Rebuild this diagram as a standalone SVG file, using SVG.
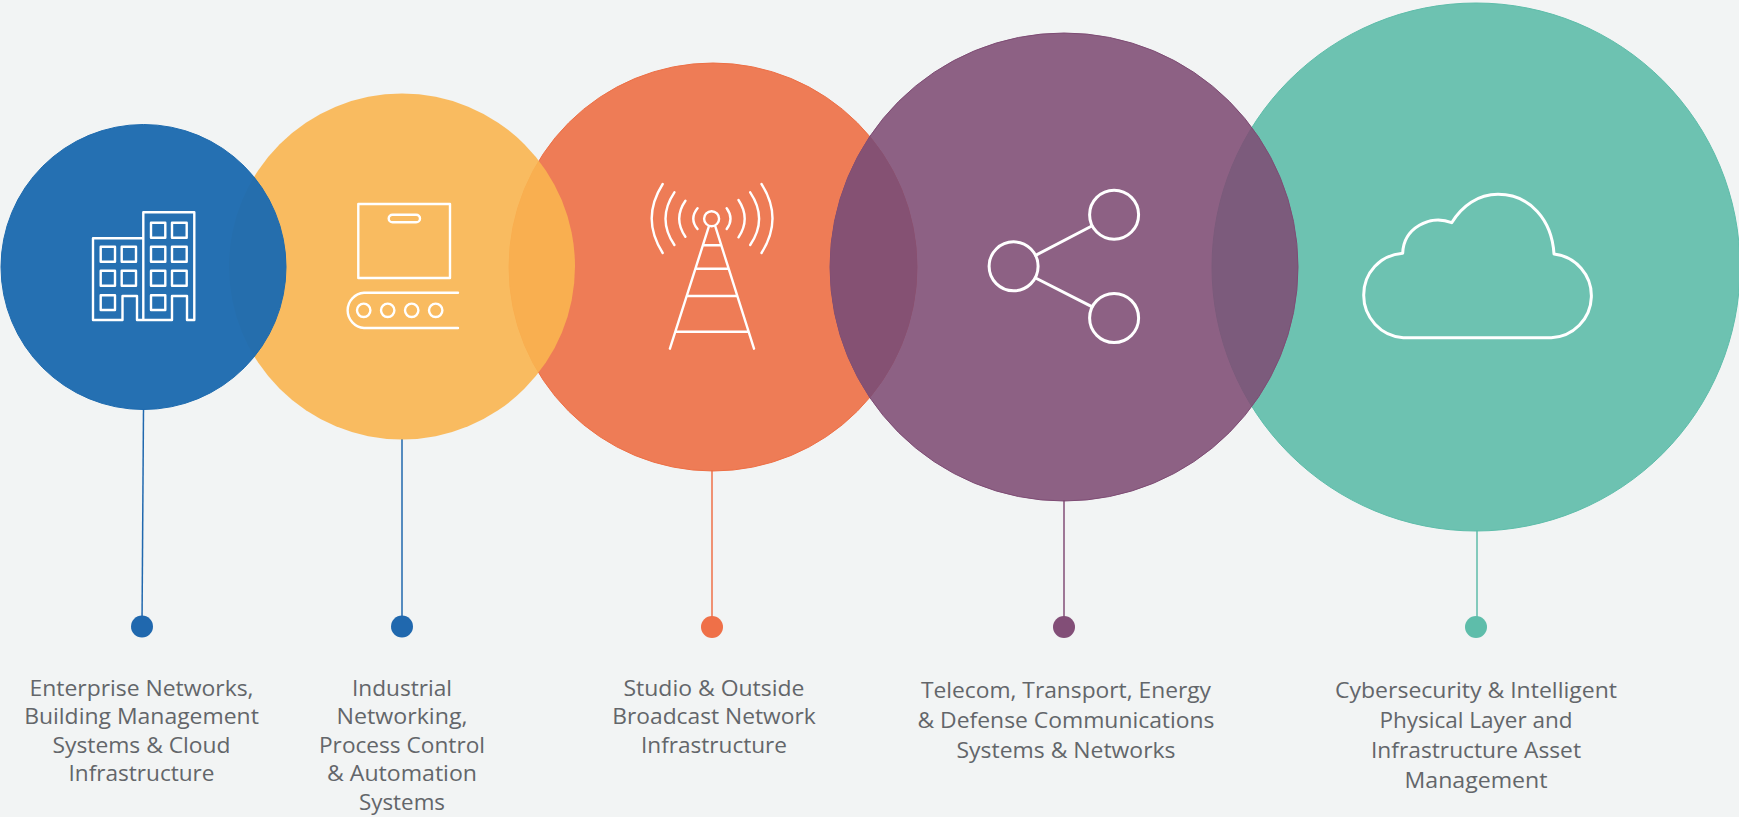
<svg xmlns="http://www.w3.org/2000/svg" width="1739" height="817" viewBox="0 0 1739 817">
<style>
.ic{fill:none;stroke:#fff;stroke-width:2.4;stroke-linecap:round;stroke-linejoin:round}
.ic2{fill:none;stroke:#fff;stroke-width:3;stroke-linecap:round;stroke-linejoin:round}
text{font-family:"Open Sans","Liberation Sans",sans-serif;font-size:22px;fill:#63666a;text-anchor:middle}
.st{stroke-width:1.5;fill:none}
</style>
<rect width="1739" height="817" fill="#f2f4f4"/>
<g id="connectors">
<path class="st" stroke="#2068ae" d="M143.500 409L142 626"/>
<path class="st" stroke="#2068ae" d="M402 439V626" />
<path class="st" stroke="#ef7048" d="M712 470V626"/>
<path class="st" stroke="#824e77" d="M1064 500V626"/>
<path class="st" stroke="#5ebdaa" d="M1477 530V626"/>
</g>
<g id="node-teal">
<circle cx="1476" cy="267" r="264" fill="#5ebdaa" fill-opacity=".9" stroke="#5ebdaa"/>
<path class="ic2" d="M1403.300 337.700H1551.300A42 42 0 0 0 1554 254C1552 220 1530 194.300 1498 194.300C1478 194.300 1462 206 1451.700 222.700C1430 214 1403.500 228 1402.700 253.300C1380 255 1363.700 273 1363.700 295A42.500 42.500 0 0 0 1403.300 337.700Z"/>
<circle cx="1476" cy="627" r="11" fill="#5ebdaa"/>
<text x="1476" y="698" textLength="282" lengthAdjust="spacingAndGlyphs">Cybersecurity &amp; Intelligent</text>
<text x="1476" y="728" textLength="193" lengthAdjust="spacingAndGlyphs">Physical Layer and</text>
<text x="1476" y="758" textLength="210" lengthAdjust="spacingAndGlyphs">Infrastructure Asset</text>
<text x="1476" y="788" textLength="143" lengthAdjust="spacingAndGlyphs">Management</text>
</g>
<g id="node-orange">
<circle cx="713" cy="267" r="204" fill="#ed6f45" fill-opacity=".9" stroke="#ed6f45"/>
<circle class="ic" cx="711.600" cy="218.700" r="7.500"/>
<path class="ic" d="M708.800 226.700L669.900 348.700M715.400 226.700L754 348.700M703 245.300H720.900M696.400 268.700H727.400M687.800 296H736M676.800 331.700H748.100"/>
<path class="ic" d="M697.500 208.300Q689.100 218.700 697.500 229M685.400 200.700Q673 218.700 685.400 236.700M674.400 192.300Q656.600 218.700 674.400 245M662.700 184Q640.700 218.700 662.700 253M726.700 208.300Q734.300 218.700 726.700 229M738.500 200Q750.900 218.700 738.500 237.300M750.200 192.300Q768 218.700 750.200 245M761.500 184Q783.500 218.700 761.500 253"/>
<circle cx="712" cy="627" r="11" fill="#ef7048"/>
<text x="714" y="695.500" textLength="181" lengthAdjust="spacingAndGlyphs">Studio &amp; Outside</text>
<text x="714" y="724" textLength="203.500" lengthAdjust="spacingAndGlyphs">Broadcast Network</text>
<text x="714" y="752.500" textLength="146" lengthAdjust="spacingAndGlyphs">Infrastructure</text>
</g>
<g id="node-purple">
<circle cx="1064" cy="267" r="234" fill="#7e4c74" fill-opacity=".88" stroke="#7e4c74"/>
<path d="M869.800 136.500A204 204 0 0 1 869.800 397.500A234 234 0 0 1 869.800 136.500Z" fill="#855173"/>
<circle class="ic2" cx="1013.600" cy="266.300" r="24.500"/>
<circle class="ic2" cx="1114.100" cy="214.700" r="24.500"/>
<circle class="ic2" cx="1114.100" cy="318" r="24.500"/>
<path class="ic2" d="M1035.600 255.300L1091.800 226M1035.600 278L1091.800 306.700"/>
<circle cx="1064" cy="627" r="11" fill="#824e77"/>
<text x="1066" y="698" textLength="290" lengthAdjust="spacingAndGlyphs">Telecom, Transport, Energy</text>
<text x="1066" y="728" textLength="297" lengthAdjust="spacingAndGlyphs">&amp; Defense Communications</text>
<text x="1066" y="758" textLength="219" lengthAdjust="spacingAndGlyphs">Systems &amp; Networks</text>
</g>
<g id="node-yellow">
<circle cx="402" cy="266.500" r="173" fill="#f9b550" fill-opacity=".9"/>
<rect class="ic" x="358.300" y="204" width="91.700" height="74"/>
<rect class="ic" x="388.700" y="214.700" width="31.300" height="7.600" rx="3.800"/>
<path class="ic" d="M458 292.700H364A17.700 17.700 0 0 0 364 328H458"/>
<circle class="ic" cx="363.700" cy="310.300" r="6.700"/>
<circle class="ic" cx="387.700" cy="310.300" r="6.700"/>
<circle class="ic" cx="411.700" cy="310.300" r="6.700"/>
<circle class="ic" cx="435.700" cy="310.300" r="6.700"/>
<circle cx="402" cy="626.500" r="11" fill="#2068ae"/>
<text x="402" y="695.500" textLength="100" lengthAdjust="spacingAndGlyphs">Industrial</text>
<text x="402" y="724" textLength="131" lengthAdjust="spacingAndGlyphs">Networking,</text>
<text x="402" y="752.500" textLength="166" lengthAdjust="spacingAndGlyphs">Process Control</text>
<text x="402" y="781" textLength="150" lengthAdjust="spacingAndGlyphs">&amp; Automation</text>
<text x="402" y="809.500" textLength="86" lengthAdjust="spacingAndGlyphs">Systems</text>
</g>
<g id="node-blue">
<circle cx="143.500" cy="267" r="142.500" fill="#1e6baf" fill-opacity=".97" stroke="#1e6baf"/>
<path class="ic" d="M143.300 238.300H93V320H122.500V296H137V320H143.300ZM143.300 320V212.300H194.300V320H187V296H172V320Z"/>
<path class="ic" d="M100.700 246.700h14.300v15h-14.300zM121.700 246.700h14.300v15h-14.300zM100.700 270.700h14.300v15h-14.300zM121.700 270.700h14.300v15h-14.300zM100.700 295.300h14.300v14.700h-14.300zM151 222.700h14.300v15h-14.300zM172 222.700h14.700v15h-14.700zM151 246.700h14.300v15h-14.300zM172 246.700h14.700v15h-14.700zM151 270.700h14.300v15h-14.300zM172 270.700h14.700v15h-14.700zM151 295.300h14.300v14.700h-14.300z"/>
<circle cx="142" cy="626.500" r="11" fill="#2068ae"/>
<text x="141.500" y="695.500" textLength="224" lengthAdjust="spacingAndGlyphs">Enterprise Networks,</text>
<text x="141.500" y="724" textLength="234.700" lengthAdjust="spacingAndGlyphs">Building Management</text>
<text x="141.500" y="752.500" textLength="178" lengthAdjust="spacingAndGlyphs">Systems &amp; Cloud</text>
<text x="141.500" y="781" textLength="146" lengthAdjust="spacingAndGlyphs">Infrastructure</text>
</g>
</svg>
